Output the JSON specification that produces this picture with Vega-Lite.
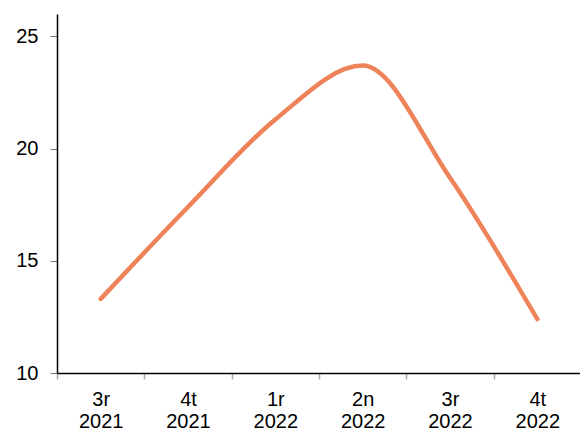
{
  "$schema": "https://vega.github.io/schema/vega-lite/v6.json",
  "width": 524,
  "height": 359,
  "autosize": {"type": "none"},
  "padding": {"left": 57, "top": 14, "right": 0, "bottom": 57},
  "background": "white",
  "config": {"view": {"stroke": null}, "font": "Liberation Sans"},
  "data": {"values": [
    {"q": "3r 2021", "v": 13.3},
    {"q": "4t 2021", "v": 17.4},
    {"q": "1r 2022", "v": 21.3},
    {"q": "2n 2022", "v": 23.7},
    {"q": "3r 2022", "v": 18.7},
    {"q": "4t 2022", "v": 12.4}
  ]},
  "mark": {"type": "line", "interpolate": "monotone", "color": "#EE8359", "strokeWidth": 4.5, "strokeCap": "round"},
  "encoding": {
    "x": {"field": "q", "type": "nominal", "sort": null, "title": null,
      "scale": {"type": "band", "paddingInner": 0, "paddingOuter": 0},
      "axis": {"labelAngle": 0, "labelExpr": "split(datum.label, ' ')", "labelFontSize": 20, "labelColor": "#000", "labelPadding": 10, "labelLineHeight": 22,
        "domainColor": "#000", "domainWidth": 1.5, "tickColor": "#aaa", "tickSize": 6, "tickWidth": 1.5, "tickBand": "extent", "bandPosition": 0}},
    "y": {"field": "v", "type": "quantitative", "title": null,
      "scale": {"domain": [10, 26], "nice": false, "zero": false},
      "axis": {"values": [10, 15, 20, 25], "grid": false, "labelFontSize": 20, "labelColor": "#000", "labelPadding": 12,
        "domainColor": "#000", "domainWidth": 1.5, "tickColor": "#777", "tickSize": 7, "tickWidth": 1}}
  }
}
